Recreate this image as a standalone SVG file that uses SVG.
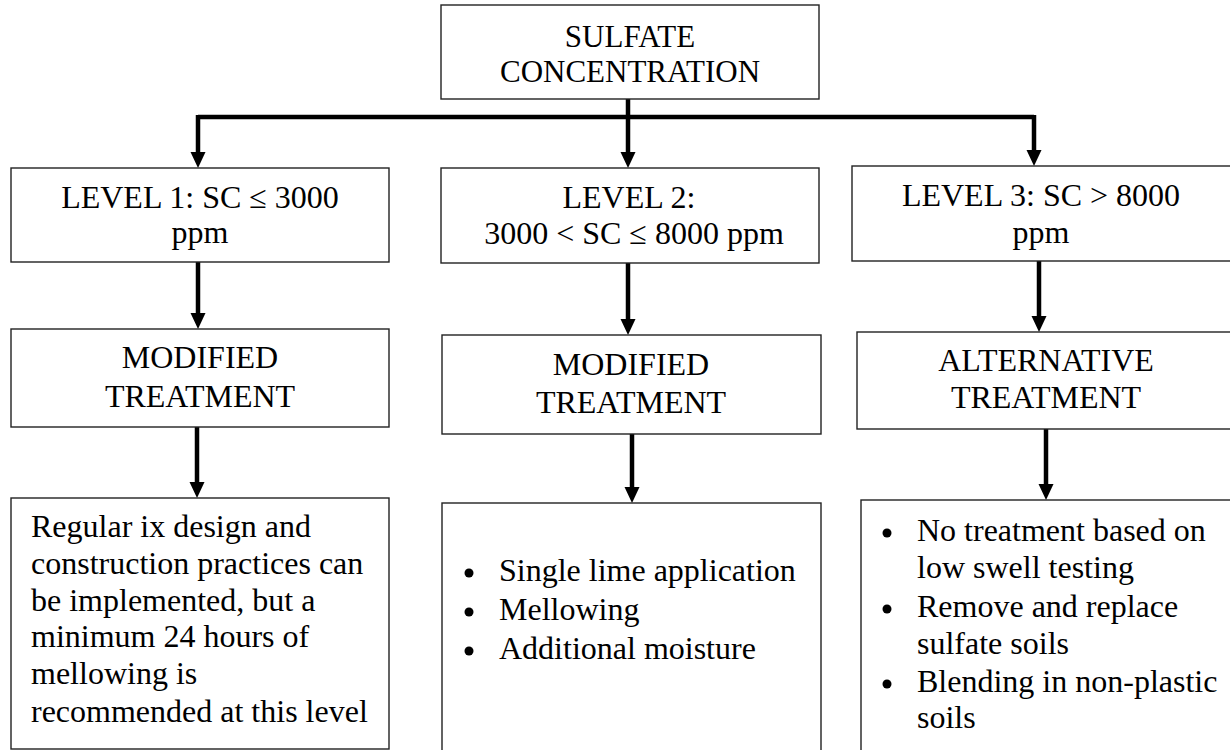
<svg xmlns="http://www.w3.org/2000/svg" width="1230" height="750" viewBox="0 0 1230 750">
<style>
.box{fill:#fff;stroke:#222;stroke-width:1.4}
.t{font-family:"Liberation Serif","Times New Roman",serif;font-size:32px;fill:#000}
.c{text-anchor:middle}
.con{fill:none;stroke:#000;stroke-width:4.5}
</style>
<defs>
<marker id="ah" markerUnits="userSpaceOnUse" markerWidth="16" markerHeight="16" viewBox="0 0 16 16" refX="2" refY="7.5" orient="auto">
<path d="M0,0 L16,7.5 L0,15 z" fill="#000"/>
</marker>
</defs>
<rect width="1230" height="750" fill="#fff"/>
<g id="connectors">
<path class="con" d="M198,117 H1034"/>
<path class="con" d="M198,115 V154" marker-end="url(#ah)"/>
<path class="con" d="M628,99 V154" marker-end="url(#ah)"/>
<path class="con" d="M1034,115 V152" marker-end="url(#ah)"/>
<path class="con" d="M198,262 V315" marker-end="url(#ah)"/>
<path class="con" d="M628,263 V321" marker-end="url(#ah)"/>
<path class="con" d="M1039,261 V318" marker-end="url(#ah)"/>
<path class="con" d="M197,427 V484" marker-end="url(#ah)"/>
<path class="con" d="M632,434 V489" marker-end="url(#ah)"/>
<path class="con" d="M1046,429 V486" marker-end="url(#ah)"/>
</g>
<g id="sulfate">
<rect class="box" x="441" y="5" width="378" height="94"/>
<text class="t c" x="630" y="47" style="font-size:31px">SULFATE</text>
<text class="t c" x="630" y="82" style="font-size:31px">CONCENTRATION</text>
</g>
<g id="level1">
<rect class="box" x="11" y="168" width="378" height="94"/>
<text class="t c" x="200" y="208">LEVEL 1: SC ≤ 3000</text>
<text class="t c" x="200" y="243">ppm</text>
</g>
<g id="level2">
<rect class="box" x="441" y="168" width="378" height="95"/>
<text class="t c" x="629" y="208">LEVEL 2:</text>
<text class="t c" x="634" y="244">3000 &lt; SC ≤ 8000 ppm</text>
</g>
<g id="level3">
<rect class="box" x="852" y="166" width="379" height="95"/>
<text class="t c" x="1041" y="206">LEVEL 3: SC &gt; 8000</text>
<text class="t c" x="1041" y="243">ppm</text>
</g>
<g id="modified1">
<rect class="box" x="11" y="329" width="378" height="98"/>
<text class="t c" x="200" y="368">MODIFIED</text>
<text class="t c" x="200" y="407">TREATMENT</text>
</g>
<g id="modified2">
<rect class="box" x="442" y="335" width="379" height="99"/>
<text class="t c" x="631" y="375">MODIFIED</text>
<text class="t c" x="631" y="413">TREATMENT</text>
</g>
<g id="alternative">
<rect class="box" x="857" y="332" width="378" height="97"/>
<text class="t c" x="1046" y="371">ALTERNATIVE</text>
<text class="t c" x="1046" y="408">TREATMENT</text>
</g>
<g id="practices1">
<rect class="box" x="11" y="498" width="378" height="251"/>
<text class="t" x="31" y="537">Regular ix design and</text>
<text class="t" x="31" y="574">construction practices can</text>
<text class="t" x="31" y="611">be implemented, but a</text>
<text class="t" x="31" y="647">minimum 24 hours of</text>
<text class="t" x="31" y="684">mellowing is</text>
<text class="t" x="31" y="722">recommended at this level</text>
</g>
<g id="practices2">
<rect class="box" x="442" y="503" width="379" height="260"/>
<circle cx="469" cy="573" r="4.5"/>
<circle cx="469" cy="612" r="4.5"/>
<circle cx="469" cy="651" r="4.5"/>
<text class="t" x="499" y="581">Single lime application</text>
<text class="t" x="499" y="620">Mellowing</text>
<text class="t" x="499" y="659">Additional moisture</text>
</g>
<g id="practices3">
<rect class="box" x="861" y="500" width="378" height="260"/>
<circle cx="887" cy="533" r="4.5"/>
<circle cx="887" cy="609" r="4.5"/>
<circle cx="887" cy="684" r="4.5"/>
<text class="t" x="917" y="541">No treatment based on</text>
<text class="t" x="917" y="578">low swell testing</text>
<text class="t" x="917" y="617">Remove and replace</text>
<text class="t" x="917" y="654">sulfate soils</text>
<text class="t" x="917" y="692">Blending in non-plastic</text>
<text class="t" x="917" y="728">soils</text>
</g>
</svg>
